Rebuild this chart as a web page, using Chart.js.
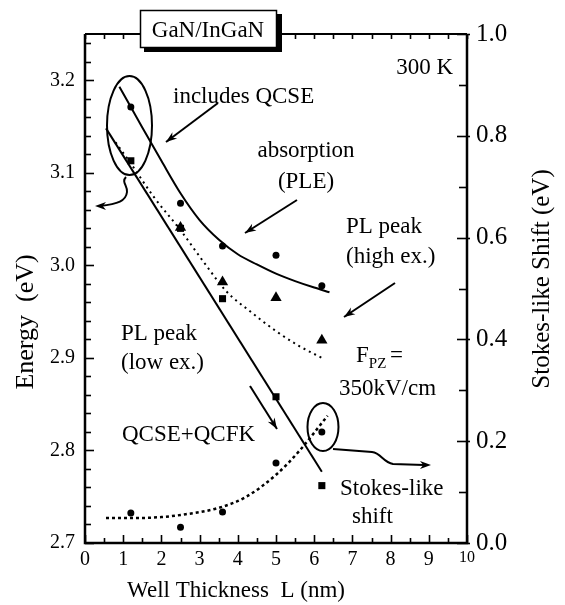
<!DOCTYPE html>
<html>
<head>
<meta charset="utf-8">
<script src="https://cdn.jsdelivr.net/npm/chart.js@4.4.1/dist/chart.umd.min.js"></script>
<style>
  html, body { margin: 0; padding: 0; background: #fff; }
</style>
</head>
<body>
<canvas id="chart" width="565" height="605"></canvas>
<script>
// measured samples (well thickness in nm)
const wellL = [1.2, 2.5, 3.6, 5.0, 6.2];
const absorption = [3.171, 3.067, 3.021, 3.011, 2.978];
const plLow = [3.113, 3.040, 2.964, 2.858, 2.762];
const plHighL = [2.5, 3.6, 5.0, 6.2];
const plHigh = [3.041, 2.982, 2.965, 2.919];
const stokesShift = [0.059, 0.031, 0.061, 0.157, 0.218];

// calculated curves
const absFitL = [0.9, 1.5, 2.0, 2.5, 3.0, 3.5, 4.0, 4.5, 5.0, 5.5, 6.0, 6.4];
const absFit = [3.193, 3.149, 3.113, 3.078, 3.049, 3.028, 3.012, 3.001, 2.991, 2.983, 2.976, 2.971];
const lowFitL = [0.55, 6.2];
const lowFit = [3.148, 2.777];
const highFitL = [0.8, 1.2, 1.8, 2.5, 3.1, 3.7, 4.3, 5.0, 5.6, 6.2];
const highFit = [3.133, 3.110, 3.074, 3.038, 3.004, 2.972, 2.951, 2.929, 2.913, 2.900];
const stokesFitL = [0.55, 1.3, 2.0, 2.5, 3.5, 4.2, 5.0, 5.6, 6.35];
const stokesFit = [0.049, 0.049, 0.051, 0.055, 0.069, 0.090, 0.134, 0.180, 0.250];

// tick labels
const xTicks = [0, 1, 2, 3, 4, 5, 6, 7, 8, 9, 10];
const energyTicks = [2.7, 2.8, 2.9, 3.0, 3.1, 3.2];
const shiftTicks = [0.0, 0.2, 0.4, 0.6, 0.8, 1.0];

const SERIF = '"Liberation Serif", "Times New Roman", serif';

const pts = (xs, ys) => xs.map((x, i) => ({ x, y: ys[i] }));

function arrowHead(ctx, x1, y1, x2, y2, len = 11, half = 4) {
  const a = Math.atan2(y2 - y1, x2 - x1);
  ctx.beginPath();
  ctx.moveTo(x2, y2);
  ctx.lineTo(x2 - len * Math.cos(a) + half * Math.sin(a), y2 - len * Math.sin(a) - half * Math.cos(a));
  ctx.lineTo(x2 - len * 0.7 * Math.cos(a), y2 - len * 0.7 * Math.sin(a));
  ctx.lineTo(x2 - len * Math.cos(a) - half * Math.sin(a), y2 - len * Math.sin(a) + half * Math.cos(a));
  ctx.closePath();
  ctx.fill();
}

function arrow(ctx, x1, y1, x2, y2) {
  ctx.beginPath();
  ctx.moveTo(x1, y1);
  ctx.lineTo(x2, y2);
  ctx.stroke();
  arrowHead(ctx, x1, y1, x2, y2);
}

// frame with inward ticks on all four sides
const frame = {
  id: 'frame',
  afterDraw(chart) {
    const { ctx, chartArea: a, scales } = chart;
    const { x, y, y2 } = scales;
    ctx.save();
    ctx.strokeStyle = '#000';
    ctx.lineCap = 'butt';

    ctx.lineWidth = 1.6;
    for (let i = 0; i <= 20; i++) {
      const v = i / 2;
      const px = Math.round(x.getPixelForValue(v)) + 0.5;
      const len = i % 2 === 0 ? 8 : 5;
      ctx.beginPath();
      ctx.moveTo(px, a.bottom);
      ctx.lineTo(px, a.bottom - len);
      ctx.moveTo(px, a.top);
      ctx.lineTo(px, a.top + 5);
      ctx.stroke();
    }
    for (let i = 0; i <= 27; i++) {
      const v = 2.7 + i * 0.02;
      const py = Math.round(y.getPixelForValue(v)) + 0.5;
      const len = i % 5 === 0 ? 9 : 6;
      ctx.beginPath();
      ctx.moveTo(a.left, py);
      ctx.lineTo(a.left + len, py);
      ctx.stroke();
    }
    for (let i = 0; i <= 10; i++) {
      const py = Math.round(y2.getPixelForValue(i / 10)) + 0.5;
      const major = i % 2 === 0;
      ctx.beginPath();
      ctx.moveTo(a.right + (major ? 3 : 0), py);
      ctx.lineTo(a.right - (major ? 10 : 8), py);
      ctx.stroke();
    }

    ctx.lineWidth = 2.5;
    ctx.beginPath();
    ctx.moveTo(a.left, a.top);
    ctx.lineTo(a.left, a.bottom);
    ctx.lineTo(a.right, a.bottom);
    ctx.lineTo(a.right, a.top);
    ctx.stroke();
    ctx.lineWidth = 2;
    ctx.beginPath();
    ctx.moveTo(a.left, a.top);
    ctx.lineTo(a.right, a.top);
    ctx.stroke();
    ctx.restore();
  }
};

// labels, arrows and circled regions
const notes = {
  id: 'notes',
  afterDraw(chart) {
    const { ctx, scales } = chart;
    const { x, y, y2 } = scales;
    ctx.save();
    ctx.fillStyle = '#000';
    ctx.strokeStyle = '#000';
    ctx.textBaseline = 'alphabetic';

    // title box with drop shadow
    ctx.fillRect(144, 14, 138, 38);
    ctx.fillStyle = '#fff';
    ctx.fillRect(140, 10, 137, 38);
    ctx.lineWidth = 1.5;
    ctx.strokeRect(140.5, 10.5, 136, 37);
    ctx.fillStyle = '#000';
    ctx.font = '23px ' + SERIF;
    ctx.textAlign = 'center';
    ctx.fillText('GaN/InGaN', 208, 37);

    ctx.textAlign = 'right';
    ctx.fillText('300 K', 453, 74);

    ctx.textAlign = 'center';
    ctx.fillText('absorption', 306, 157);
    ctx.fillText('(PLE)', 306, 188);

    ctx.textAlign = 'left';
    ctx.fillText('includes QCSE', 173, 103);
    ctx.fillText('PL peak', 346, 233);
    ctx.fillText('(high ex.)', 346, 263);
    ctx.fillText('PL peak', 121, 340);
    ctx.fillText('(low ex.)', 121, 369);
    ctx.fillText('350kV/cm', 339, 395);
    ctx.fillText('QCSE+QCFK', 122, 441);
    ctx.fillText('Stokes-like', 340, 495);
    ctx.fillText('shift', 352, 523);

    ctx.fillText('F', 356, 362);
    const fw = ctx.measureText('F').width;
    ctx.font = '15px ' + SERIF;
    ctx.fillText('PZ', 356 + fw, 368);
    const pw = ctx.measureText('PZ').width;
    ctx.font = '23px ' + SERIF;
    ctx.fillText(' =', 356 + fw + pw - 2, 362);

    // circled regions around the thin-well and thick-well points
    ctx.lineWidth = 2;
    ctx.beginPath();
    ctx.ellipse(x.getPixelForValue(1.165), y.getPixelForValue(3.151), 22.5, 49.5, 0, 0, Math.PI * 2);
    ctx.stroke();
    ctx.beginPath();
    ctx.ellipse(x.getPixelForValue(6.23), y2.getPixelForValue(0.228), 15.5, 24, 0, 0, Math.PI * 2);
    ctx.stroke();

    ctx.lineWidth = 2;
    arrow(ctx, 218, 103, 166, 142);
    arrow(ctx, 297, 200, 245, 233);
    arrow(ctx, 395, 283, 344, 317);
    arrow(ctx, 250, 386, 277, 429);

    // curled pointers to the two axes
    ctx.beginPath();
    ctx.moveTo(126, 177);
    ctx.bezierCurveTo(121, 182, 128, 186, 127, 192);
    ctx.bezierCurveTo(126, 201, 118, 204, 100, 206);
    ctx.stroke();
    arrowHead(ctx, 110, 206, 95, 206);

    ctx.beginPath();
    ctx.moveTo(333, 449);
    ctx.lineTo(372, 452);
    ctx.bezierCurveTo(381, 453, 383, 462, 393, 464);
    ctx.lineTo(424, 465);
    ctx.stroke();
    arrowHead(ctx, 415, 465, 431, 465);

    // axis titles
    ctx.font = '23px ' + SERIF;
    ctx.textAlign = 'center';
    ctx.fillText('Well Thickness  L (nm)', 236, 597);

    ctx.save();
    ctx.translate(33, 322);
    ctx.rotate(-Math.PI / 2);
    ctx.font = '26px ' + SERIF;
    ctx.fillText('Energy  (eV)', 0, 0);
    ctx.restore();

    ctx.save();
    ctx.translate(549, 279);
    ctx.rotate(-Math.PI / 2);
    ctx.font = '25px ' + SERIF;
    ctx.fillText('Stokes-like Shift (eV)', 0, 0);
    ctx.restore();

    ctx.restore();
  }
};

const marker = (style, radius, axis, data) => ({
  data,
  yAxisID: axis,
  showLine: false,
  pointStyle: style,
  pointRadius: radius,
  backgroundColor: '#000',
  borderColor: '#000',
  borderWidth: 0,
});

const curve = (axis, data, dash, width) => ({
  data,
  yAxisID: axis,
  showLine: true,
  pointRadius: 0,
  borderColor: '#000',
  borderWidth: width,
  borderDash: dash,
  cubicInterpolationMode: 'monotone',
  fill: false,
});

new Chart(document.getElementById('chart'), {
  type: 'scatter',
  data: {
    datasets: [
      curve('y', pts(absFitL, absFit), [], 2),
      curve('y', pts(lowFitL, lowFit), [], 2),
      curve('y', pts(highFitL, highFit), [2, 4], 2),
      curve('y2', pts(stokesFitL, stokesFit), [3, 3], 2.5),
      marker('circle', 3.5, 'y', pts(wellL, absorption)),
      marker('triangle', 6.5, 'y', pts(plHighL, plHigh)),
      marker('rect', 5, 'y', pts(wellL, plLow)),
      marker('circle', 3.5, 'y2', pts(wellL, stokesShift)),
    ],
  },
  options: {
    responsive: false,
    animation: false,
    layout: { padding: { top: 34 } },
    plugins: {
      legend: { display: false },
      tooltip: { enabled: false },
    },
    scales: {
      x: {
        type: 'linear',
        min: 0,
        max: 10,
        afterBuildTicks: (s) => { s.ticks = xTicks.map((v) => ({ value: v })); },
        afterFit: (s) => { s.height = 62; },
        grid: { display: false, drawTicks: false },
        border: { display: false },
        ticks: {
          color: '#000',
          padding: 5,
          maxRotation: 0,
          autoSkip: false,
          font: (c) => ({ family: SERIF, size: c.tick && c.tick.value === 10 ? 16 : 20 }),
        },
      },
      y: {
        position: 'left',
        min: 2.7,
        max: 3.25,
        afterBuildTicks: (s) => { s.ticks = energyTicks.map((v) => ({ value: v })); },
        afterFit: (s) => { s.width = 85; },
        grid: { display: false, drawTicks: false },
        border: { display: false },
        ticks: {
          color: '#000',
          padding: 10,
          font: { family: SERIF, size: 20 },
          callback: (v) => v.toFixed(1),
        },
      },
      y2: {
        position: 'right',
        min: 0,
        max: 1,
        afterBuildTicks: (s) => { s.ticks = shiftTicks.map((v) => ({ value: v })); },
        afterFit: (s) => { s.width = 98; },
        grid: { display: false, drawTicks: false },
        border: { display: false },
        ticks: {
          color: '#000',
          padding: 9,
          font: { family: SERIF, size: 25 },
          callback: (v) => v.toFixed(1),
        },
      },
    },
  },
  plugins: [frame, notes],
});
</script>
</body>
</html>
